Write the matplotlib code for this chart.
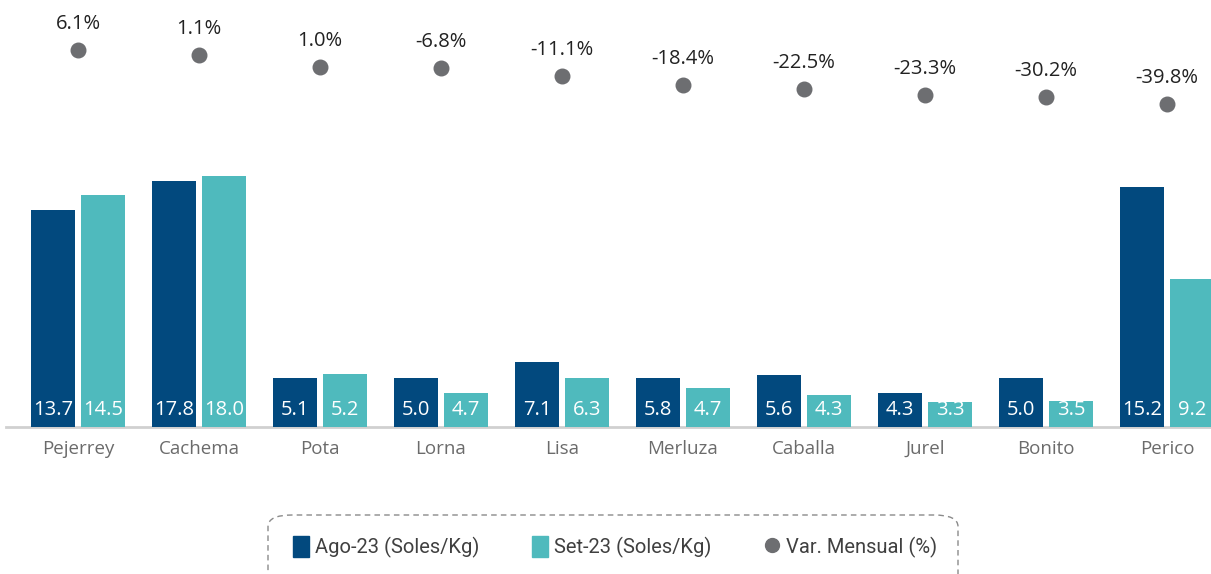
import numpy as np
import matplotlib
matplotlib.use("Agg")
import matplotlib.pyplot as plt
from matplotlib.patches import FancyBboxPatch
from matplotlib.lines import Line2D
from matplotlib.patches import Patch

# ---------------------------------
# Data
# ---------------------------------
species = ["Pejerrey", "Cachema", "Pota", "Lorna", "Lisa",
           "Merluza", "Caballa", "Jurel", "Bonito", "Perico"]

# printed labels (Soles/Kg)
ago_labels = [13.7, 17.8, 5.1, 5.0, 7.1, 5.8, 5.6, 4.3, 5.0, 15.2]
set_labels = [14.5, 18.0, 5.2, 4.7, 6.3, 4.7, 4.3, 3.3, 3.5, 9.2]

# bar lengths as drawn in the picture (they do not follow the labels)
ago_drawn = [13.56, 15.38, 3.06, 3.06, 4.06, 3.06, 3.25, 2.13, 3.06, 15.0]
set_drawn = [14.5, 15.69, 3.31, 2.13, 3.06, 2.44, 2.0, 1.56, 1.63, 9.25]

# monthly variation (%) and where the dots sit in the picture
var_labels = [6.1, 1.1, 1.0, -6.8, -11.1, -18.4, -22.5, -23.3, -30.2, -39.8]
var_drawn = [6.1, 1.85, -8.35, -9.2, -16.0, -23.65, -27.05, -32.15, -33.85, -39.8]

C_AGO = "#02497e"
C_SET = "#4fbabd"
C_DOT = "#6d6e71"

plt.rcParams['font.family'] = ['Open Sans', 'DejaVu Sans']

fig = plt.figure(figsize=(12.11, 5.74), dpi=100)
ax = fig.add_axes([6 / 1211, 147 / 574, 1205 / 1211, 427 / 574])

x = np.arange(len(species))
w = 0.364
off = 0.207

ax.bar(x - off, ago_drawn, w, color=C_AGO, zorder=3)
ax.bar(x + off, set_drawn, w, color=C_SET, zorder=3)

for i in range(len(species)):
    ax.annotate(f"{ago_labels[i]:.1f}", (x[i] - off, 0), xytext=(0, 12.5),
                textcoords="offset points", ha="center", va="center",
                color="white", fontsize=14.5, zorder=4)
    ax.annotate(f"{set_labels[i]:.1f}", (x[i] + off, 0), xytext=(0, 12.5),
                textcoords="offset points", ha="center", va="center",
                color="white", fontsize=14.5, zorder=4)

ax.set_xlim(-0.595, 9.364)
ax.set_ylim(0, 427 / 16)
ax.set_xticks(x)
ax.set_xticklabels(species, fontsize=13.5, color="#6b6b6b")
ax.tick_params(axis="x", length=0, pad=9)
ax.set_yticks([])
for s in ["top", "right", "left"]:
    ax.spines[s].set_visible(False)
ax.spines["bottom"].set_color("#d0d0d0")
ax.spines["bottom"].set_linewidth(2)
ax.patch.set_alpha(0)

# dots on their own scale
ax2 = ax.twinx()
ax2.scatter(x, var_drawn, s=110, color=C_DOT, zorder=5, clip_on=False)
for i in range(len(species)):
    ax2.annotate(f"{var_labels[i]:.1f}%", (x[i], var_drawn[i]), xytext=(0, 19),
                 textcoords="offset points", ha="center", va="center",
                 color="#222222", fontsize=14.5)
ax2.set_ylim(6.1 - 377 / 1.1765, 6.1 + 50 / 1.1765)
ax2.set_yticks([])
for s in ["top", "right", "left", "bottom"]:
    ax2.spines[s].set_visible(False)

# legend with dashed rounded frame
handles = [Patch(color=C_AGO), Patch(color=C_SET),
           Line2D([], [], marker="o", linestyle="none", color=C_DOT, markersize=10)]
names = ["Ago-23 (Soles/Kg)", "Set-23 (Soles/Kg)", "Var. Mensual (%)"]
fig.legend(handles, names, loc="center", bbox_to_anchor=(615 / 1211, 1 - 547 / 574),
           ncol=3, frameon=False, handlelength=0.8, handleheight=1.2, handletextpad=0.3,
           columnspacing=2.6, prop={"family": "Roboto", "size": 14.5}, labelcolor="#404040")

frame = FancyBboxPatch((268 / 1211, -0.05), 690 / 1211, (574 - 515) / 574 + 0.05,
                       boxstyle="round,pad=0,rounding_size=0.02",
                       transform=fig.transFigure, fill=False,
                       edgecolor="#8a8a8a", linestyle=(0, (4, 3)), linewidth=1)
fig.patches.append(frame)

fig.savefig("out.png", dpi=100)
